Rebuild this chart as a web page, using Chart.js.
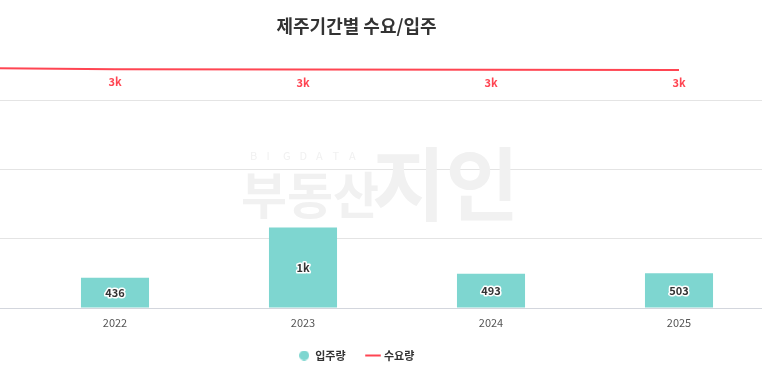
<!DOCTYPE html>
<html>
<head>
<meta charset="utf-8">
<script src="https://cdn.jsdelivr.net/npm/chart.js@4.4.1/dist/chart.umd.min.js"></script>
<style>
    html, body { margin: 0; padding: 0; background: #fff; }
    #wrap { position: relative; width: 762px; height: 377px; overflow: hidden; }
    #chart { position: absolute; left: -60px; top: 0; }
</style>
</head>
<body>
<div id="wrap"><canvas id="chart" width="842" height="377"></canvas></div>
<script>
const years = ['2021', '2022', '2023', '2024', '2025'];
const supply = [null, 436, 1160, 493, 503];      // 입주량
const demand = [3470, 3445, 3440, 3437, 3435];   // 수요량 (2021 is off-screen to the left)
const gridValues = [0, 1000, 2000, 3000];

const FONT = "'Noto Sans CJK KR', 'Noto Sans', sans-serif";
const TEAL = '#7ed6d0';
const RED = '#ff4552';

function fmt(v) {
    return v >= 1000 ? Math.floor(v / 1000) + 'k' : String(v);
}

// 10px teal dot for the bar legend item
const dot = document.createElement('canvas');
dot.width = 10; dot.height = 10;
const dctx = dot.getContext('2d');
dctx.fillStyle = TEAL;
dctx.beginPath();
dctx.arc(5, 5, 5, 0, Math.PI * 2);
dctx.fill();

const watermark = {
    id: 'watermark',
    beforeDatasetsDraw(chart) {
        const ctx = chart.ctx;
        ctx.save();
        ctx.fillStyle = '#f1f1f1';
        ctx.textBaseline = 'alphabetic';
        ctx.textAlign = 'left';
        ctx.font = `11px ${FONT}`;
        'BIGDATA'.split('').forEach((c, i) => ctx.fillText(c, 310 + i * 16.5, 160));
        ctx.font = `bold 50px ${FONT}`;
        ctx.fillText('부동산', 301, 214);
        ctx.font = `bold 80px ${FONT}`;
        ctx.fillText('지인', 432, 214);
        ctx.restore();
    }
};

const valueLabels = {
    id: 'valueLabels',
    afterDatasetsDraw(chart) {
        const ctx = chart.ctx;
        ctx.save();
        ctx.textAlign = 'center';
        ctx.textBaseline = 'middle';
        ctx.font = `bold 11px ${FONT}`;

        const bars = chart.getDatasetMeta(0);
        bars.data.forEach((el, i) => {
            if (supply[i] == null) return;
            const y = (el.y + el.base) / 2;
            ctx.lineWidth = 3;
            ctx.strokeStyle = '#fff';
            ctx.lineJoin = 'round';
            ctx.strokeText(fmt(supply[i]), el.x, y);
            ctx.fillStyle = '#333';
            ctx.fillText(fmt(supply[i]), el.x, y);
        });

        const line = chart.getDatasetMeta(1);
        ctx.fillStyle = RED;
        line.data.forEach((el, i) => {
            if (i === 0) return;
            ctx.fillText(fmt(demand[i]), el.x, el.y + 13);
        });
        ctx.restore();
    }
};

new Chart(document.getElementById('chart'), {
    data: {
        labels: years,
        datasets: [
            {
                type: 'bar',
                label: '입주량',
                data: supply,
                backgroundColor: TEAL,
                categoryPercentage: 1,
                barPercentage: 0.362
            },
            {
                type: 'line',
                label: '수요량',
                data: demand,
                borderColor: RED,
                backgroundColor: RED,
                borderWidth: 2,
                pointRadius: 0,
                pointStyle: 'line',
                tension: 0,
                clip: false
            }
        ]
    },
    options: {
        responsive: false,
        animation: false,
        layout: { padding: { right: 9, bottom: 6 } },
        plugins: {
            title: {
                display: true,
                text: '제주기간별 수요/입주',
                color: '#333',
                font: { family: FONT, size: 18, weight: '600' },
                padding: { top: 15, bottom: 15 }
            },
            legend: {
                position: 'bottom',
                labels: {
                    usePointStyle: true,
                    boxWidth: 17,
                    boxHeight: 12,
                    padding: 22,
                    color: '#333',
                    font: { family: FONT, size: 11, weight: 'bold' },
                    generateLabels(chart) {
                        const items = Chart.defaults.plugins.legend.labels.generateLabels(chart);
                        items.forEach(it => { if (it.datasetIndex === 0) it.pointStyle = dot; });
                        return items.sort((a, b) => a.datasetIndex - b.datasetIndex);
                    }
                }
            },
            tooltip: { enabled: false }
        },
        scales: {
            x: {
                min: '2022',
                offset: true,
                grid: { display: false },
                border: { display: false },
                ticks: { color: '#555', font: { family: FONT, size: 11 }, padding: 0 },
                afterFit(s) { s.height = 20; }
            },
            y: {
                min: 0,
                max: 3700,
                ticks: { display: false },
                border: { display: false },
                afterBuildTicks(s) { s.ticks = gridValues.map(v => ({ value: v })); },
                grid: {
                    tickLength: 81,
                    color: c => c.index === 0 ? '#d3d6dd' : '#e4e4e4'
                },
                afterFit(s) { s.width = 81; }
            }
        }
    },
    plugins: [watermark, valueLabels]
});
</script>
</body>
</html>
